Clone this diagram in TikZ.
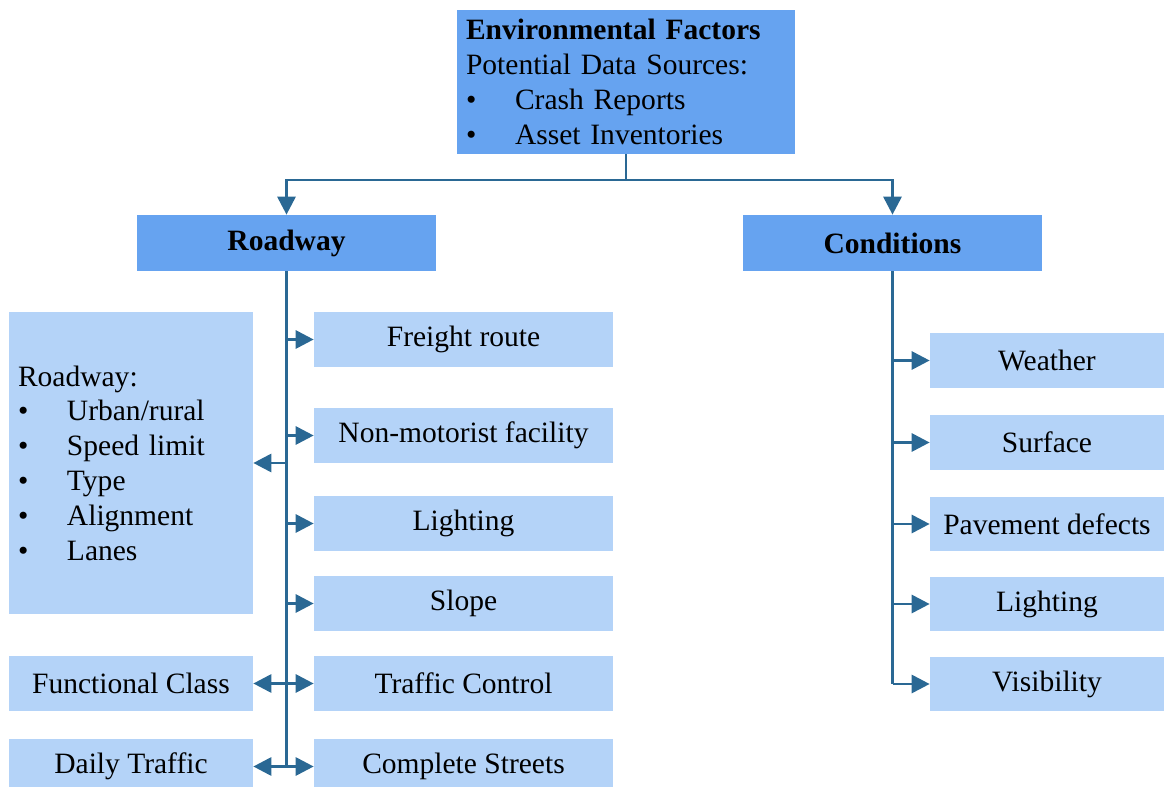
\documentclass[tikz,border=0pt]{standalone}
\usepackage{fontspec}
\setmainfont{Liberation Serif}
\usetikzlibrary{arrows.meta}
\definecolor{darkbox}{RGB}{102,163,240}
\definecolor{lightbox}{RGB}{180,211,248}
\definecolor{wire}{RGB}{42,104,148}
\def\itm#1{\makebox[0.98cm][l]{\textbullet}#1}
\def\boxfont{\fontsize{16.8}{19.8}\selectfont}
\tikzset{
	headbox/.style={fill=darkbox, inner sep=0pt, minimum width=5.98cm, minimum height=1.12cm, font=\boxfont\bfseries},
	itembox/.style={fill=lightbox, inner sep=0pt, minimum width=5.98cm, minimum height=1.1cm},
	sidebox/.style={fill=lightbox, inner sep=0pt, minimum width=4.88cm, minimum height=1.1cm},
	condbox/.style={fill=lightbox, inner sep=0pt, minimum width=4.68cm, minimum height=1.1cm},
	wired/.style={draw=wire, line width=1.7pt},
	arr/.style={wired, -{Triangle[length=0.36cm,width=0.36cm]}},
}

\begin{document}
\begin{tikzpicture}[x=0.02cm, y=-0.02cm, font=\boxfont]
			%%%%% START %%%%%
			\useasboundingbox (0,0) rectangle (1164,787);
			
			\node[fill=darkbox, minimum width=6.76cm, minimum height=2.88cm, text width=6.4cm, inner xsep=0.18cm, align=left] (env) at (626, 82)
				{\textbf{Environmental Factors}\\Potential Data Sources:\\\itm{Crash Reports}\\\itm{Asset Inventories}};
			
			\node[headbox] (road) at (286.5, 243) {Roadway};
			\node[headbox] (cond) at (892.5, 243) {Conditions};
			
			% roadway side
			\node[fill=lightbox, minimum width=4.88cm, minimum height=6.04cm, text width=4.52cm, inner xsep=0.18cm, align=left] (rlist) at (131, 463)
				{Roadway:\\\itm{Urban/rural}\\\itm{Speed limit}\\\itm{Type}\\\itm{Alignment}\\\itm{Lanes}};
			\node[sidebox] (fclass) at (131, 683.5) {Functional Class};
			\node[sidebox] (daily) at (131, 766.5) {Daily Traffic};
			
			\node[itembox] (freight) at (463.5, 339.5) {Freight route};
			\node[itembox] (nonmot) at (463.5, 435.5) {Non-motorist facility};
			\node[itembox] (rlight) at (463.5, 523.5) {Lighting};
			\node[itembox] (slope) at (463.5, 603.5) {Slope};
			\node[itembox] (tctrl) at (463.5, 683.5) {Traffic Control};
			\node[itembox] (complete) at (463.5, 766.5) {Complete Streets};
			
			% conditions side
			\node[condbox] (weather) at (1047, 360.5) {Weather};
			\node[condbox] (surface) at (1047, 442.5) {Surface};
			\node[condbox] (pave) at (1047, 524) {Pavement defects};
			\node[condbox] (clight) at (1047, 604) {Lighting};
			\node[condbox] (visib) at (1047, 684) {Visibility};
			
			% top split
			\coordinate (split) at (626, 180);
			\draw[wired] (env.south) -- (split);
			\draw[arr] (split) -| (road.north);
			\draw[arr] (split) -| (cond.north);
			
			% roadway trunk
			\draw[wired] (road.south) -- (road.south |- complete);
			\foreach \b in {freight, nonmot, rlight, slope, tctrl, complete}
				\draw[arr] (road.south |- \b) -- (\b.west);
			\foreach \b in {rlist, fclass, daily}
				\draw[arr] (road.south |- \b) -- (\b.east);
			
			% conditions trunk
			\draw[wired] (cond.south) -- (cond.south |- visib);
			\foreach \b in {weather, surface, pave, clight, visib}
				\draw[arr] (cond.south |- \b) -- (\b.west);
			%%%%% END %%%%%
\end{tikzpicture}
\end{document}
